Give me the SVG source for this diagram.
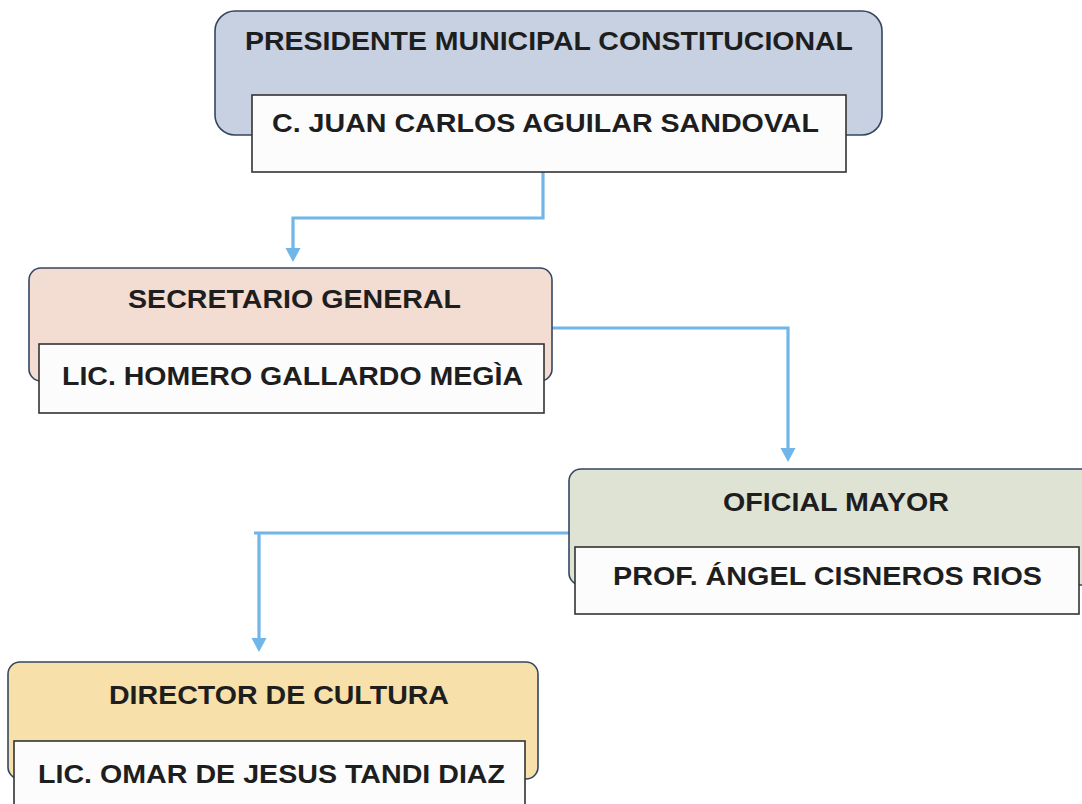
<svg xmlns="http://www.w3.org/2000/svg" width="1082" height="804" viewBox="0 0 1082 804">
<defs>
<style>
.outer{stroke:#34465f;stroke-width:1.6}
.inner{fill:#fcfcfc;stroke:#333;stroke-width:1.6}
.t{font-family:"Liberation Sans",Arial,sans-serif;font-weight:bold;font-size:26.5px;fill:#1e1e1e;text-anchor:start}
.c{fill:none;stroke:#70b6e8;stroke-width:3.2}
.ah{fill:#70b6e8}
</style>
</defs>
<rect width="1082" height="804" fill="#ffffff"/>
<g id="connectors">
<path class="c" d="M543,172 V218 H293 V250"/>
<path class="ah" d="M285.5,248 H300.5 L293,262 Z"/>
<path class="c" d="M552,328 H788 V450"/>
<path class="ah" d="M780.5,448 H795.5 L788,462 Z"/>
<path class="c" d="M569,533 H254 M259,533 V640"/>
<path class="ah" d="M251.5,638 H266.5 L259,652 Z"/>
</g>
<g id="presidente">
<rect class="outer" x="215" y="11" width="667" height="124" rx="20" fill="#c7d1e1"/>
<rect class="inner" x="252" y="95" width="594" height="77"/>
<text class="t" x="245" y="50" textLength="608" lengthAdjust="spacingAndGlyphs">PRESIDENTE MUNICIPAL CONSTITUCIONAL</text>
<text class="t" x="272" y="132" textLength="547" lengthAdjust="spacingAndGlyphs">C. JUAN CARLOS AGUILAR SANDOVAL</text>
</g>
<g id="secretario">
<rect class="outer" x="29" y="268" width="523" height="113" rx="12" fill="#f3ddd3"/>
<rect class="inner" x="39" y="344" width="505" height="69"/>
<text class="t" x="128" y="308" textLength="333" lengthAdjust="spacingAndGlyphs">SECRETARIO GENERAL</text>
<text class="t" x="62" y="385" textLength="461" lengthAdjust="spacingAndGlyphs">LIC. HOMERO GALLARDO MEGÌA</text>
</g>
<g id="oficial">
<rect class="outer" x="569" y="469" width="530" height="116" rx="12" fill="#dfe3d4"/>
<rect class="inner" x="575" y="547" width="504" height="67"/>
<text class="t" x="723" y="511" textLength="226" lengthAdjust="spacingAndGlyphs">OFICIAL MAYOR</text>
<text class="t" x="613" y="585" textLength="429" lengthAdjust="spacingAndGlyphs">PROF. ÁNGEL CISNEROS RIOS</text>
</g>
<g id="director">
<rect class="outer" x="8" y="662" width="530" height="117" rx="12" fill="#f8e0aa"/>
<rect class="inner" x="14" y="741" width="511" height="70"/>
<text class="t" x="109" y="704" textLength="340" lengthAdjust="spacingAndGlyphs">DIRECTOR DE CULTURA</text>
<text class="t" x="38" y="783" textLength="467" lengthAdjust="spacingAndGlyphs">LIC. OMAR DE JESUS TANDI DIAZ</text>
</g>
</svg>
